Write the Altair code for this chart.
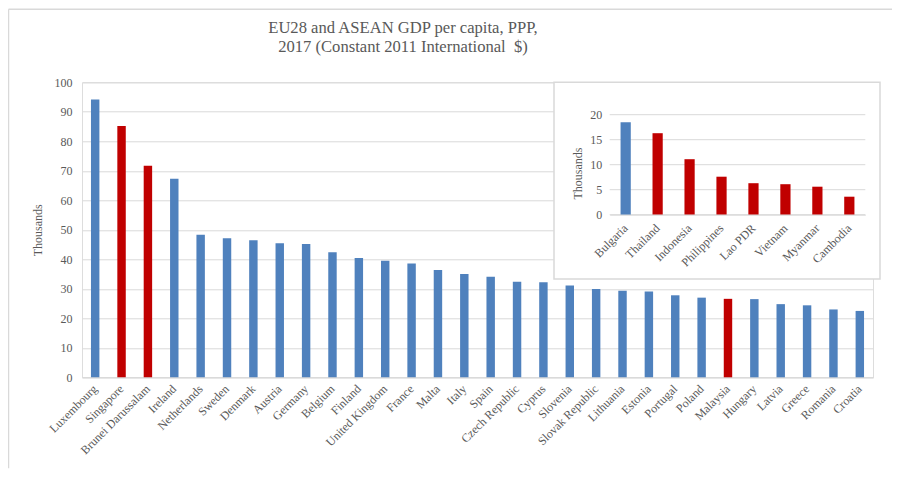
import altair as alt
import pandas as pd

# ---------------- data ----------------
main_countries = ["Luxembourg", "Singapore", "Brunei Darussalam", "Ireland", "Netherlands",
                  "Sweden", "Denmark", "Austria", "Germany", "Belgium", "Finland",
                  "United Kingdom", "France", "Malta", "Italy", "Spain", "Czech Republic",
                  "Cyprus", "Slovenia", "Slovak Republic", "Lithuania", "Estonia",
                  "Portugal", "Poland", "Malaysia", "Hungary", "Latvia", "Greece",
                  "Romania", "Croatia"]
main_values = [94.2, 85.2, 71.7, 67.3, 48.3, 47.1, 46.5, 45.4, 45.2, 42.4, 40.4,
               39.5, 38.6, 36.4, 35.0, 34.1, 32.4, 32.2, 31.1, 29.9, 29.3, 29.1,
               27.8, 27.0, 26.6, 26.5, 24.8, 24.4, 23.0, 22.5]
main_groups = ["EU", "ASEAN", "ASEAN", "EU", "EU", "EU", "EU", "EU", "EU", "EU", "EU",
               "EU", "EU", "EU", "EU", "EU", "EU", "EU", "EU", "EU", "EU", "EU",
               "EU", "EU", "ASEAN", "EU", "EU", "EU", "EU", "EU"]

inset_countries = ["Bulgaria", "Thailand", "Indonesia", "Philippines", "Lao PDR",
                   "Vietnam", "Myanmar", "Cambodia"]
inset_values = [18.5, 16.3, 11.1, 7.6, 6.3, 6.1, 5.6, 3.6]
inset_groups = ["EU", "ASEAN", "ASEAN", "ASEAN", "ASEAN", "ASEAN", "ASEAN", "ASEAN"]

main_ticks = [0, 10, 20, 30, 40, 50, 60, 70, 80, 90, 100]
inset_ticks = [0, 5, 10, 15, 20]
group_names = ["EU", "ASEAN"]
title_lines = ["EU28 and ASEAN GDP per capita, PPP,",
               "2017 (Constant 2011 International\u00a0 $)"]

# ---------------- style ----------------
BLUE = "#4F81BD"
RED = "#C00000"
GRID = "#D9D9D9"
TXT = "#595959"
FONT = "Liberation Serif"
W, H = 791, 295

main_df = pd.DataFrame({"country": main_countries, "gdp": main_values, "group": main_groups})
inset_df = pd.DataFrame({"country2": inset_countries, "gdp2": inset_values, "group": inset_groups})
grid_df = pd.DataFrame({"gdp2": inset_ticks})
one = pd.DataFrame({"k": [0]})

color = alt.Color("group:N", scale=alt.Scale(domain=group_names, range=[BLUE, RED]), legend=None)

# outer chart frame (only left and top edges are visible in the reference)
frame_left = alt.Chart(one).mark_rule(color=GRID, strokeWidth=1.5).encode(
    x=alt.value(-73.5), y=alt.value(-73), y2=alt.value(386))
frame_top = alt.Chart(one).mark_rule(color=GRID, strokeWidth=1.5).encode(
    x=alt.value(-73.5), x2=alt.value(810), y=alt.value(-73))

title = alt.Chart(one).mark_text(font=FONT, fontSize=16.6, color=TXT, align="center",
                                 baseline="alphabetic", lineHeight=18.5).encode(
    x=alt.value(321), y=alt.value(-49), text=alt.value(title_lines))

main_bars = alt.Chart(main_df).mark_bar().encode(
    x=alt.X("country:N", sort=main_countries, title=None,
            scale=alt.Scale(paddingInner=0.68, paddingOuter=0.34),
            axis=alt.Axis(orient="bottom", labelAngle=-45, labelAlign="right",
                          labelBaseline="middle", ticks=False, domainColor=GRID,
                          labelPadding=9, labelFont=FONT, labelFontSize=12,
                          labelColor=TXT)),
    y=alt.Y("gdp:Q", scale=alt.Scale(domain=[0, 100]),
            axis=alt.Axis(values=main_ticks, title="Thousands", grid=True, gridColor=GRID,
                          domain=False, ticks=False, labelPadding=10, labelFont=FONT,
                          labelFontSize=12, labelColor=TXT, titleFont=FONT,
                          titleFontSize=12, titleColor=TXT, titleFontWeight="normal",
                          titleX=-41, titleBaseline="alphabetic")),
    color=color)

inset_frame = alt.Chart(one).mark_rect(fill="white", stroke=GRID, strokeWidth=1.5).encode(
    x=alt.value(472), x2=alt.value(798), y=alt.value(0), y2=alt.value(196.7))

inset_scale_y = alt.Scale(domain=[0, 20], range=[132.4, 32.4])
inset_y_axis = alt.Axis(orient="left", offset=-527.7, values=inset_ticks, title="Thousands",
                        grid=False, domain=False, ticks=False, labelPadding=8,
                        labelFont=FONT, labelFontSize=12, labelColor=TXT,
                        titleFont=FONT, titleFontSize=12, titleColor=TXT,
                        titleFontWeight="normal", titleX=-28, titleY=90.7,
                        titleBaseline="alphabetic", zindex=2)

inset_rules = alt.Chart(grid_df).mark_rule(color=GRID, strokeWidth=1).encode(
    y=alt.Y("gdp2:Q", scale=inset_scale_y, axis=inset_y_axis),
    x=alt.value(527.7), x2=alt.value(783.3))

inset_bars = alt.Chart(inset_df).mark_bar().encode(
    x=alt.X("country2:N", sort=inset_countries, title=None,
            scale=alt.Scale(range=[527.7, 783.3], paddingInner=0.68, paddingOuter=0.34),
            axis=alt.Axis(orient="bottom", offset=-162.6, labelAngle=-45, labelAlign="right",
                          labelBaseline="middle", ticks=False, domainColor=GRID,
                          labelPadding=11, labelFont=FONT, labelFontSize=12,
                          labelColor=TXT, zindex=2)),
    y=alt.Y("gdp2:Q", scale=inset_scale_y, axis=inset_y_axis),
    color=color)

inset = alt.layer(inset_rules, inset_bars)

chart = alt.layer(frame_left, frame_top, title, main_bars, inset_frame, inset).resolve_scale(
    x="independent", y="independent"
).properties(
    width=W, height=H,
    autosize=alt.AutoSizeParams(type="none"),
    padding={"left": 74, "top": 74.3, "right": 20, "bottom": 91.7},
).configure_view(strokeWidth=0).configure(background="white")

chart.save("out.html", embed_options={"renderer": "svg", "actions": False})
